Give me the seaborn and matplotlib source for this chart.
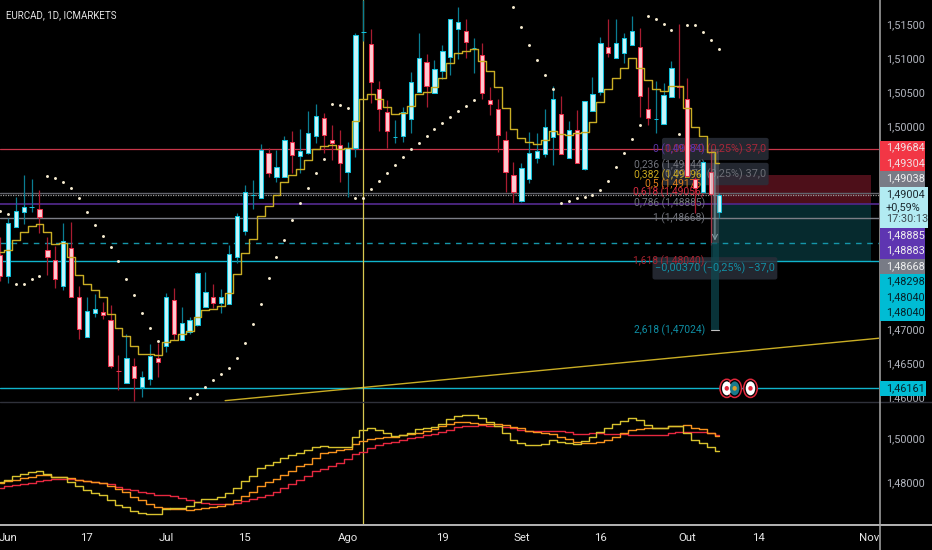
import numpy as np
import pandas as pd
import matplotlib
matplotlib.use("Agg")
import matplotlib.pyplot as plt
from matplotlib.patches import Rectangle, Ellipse, FancyBboxPatch
from matplotlib.lines import Line2D
from matplotlib.transforms import ScaledTranslation, Bbox
import seaborn as sns

# daily candles
opens = [1.4813,1.4781,1.4854,1.4876,1.4883,1.4880,1.4820,1.4805,1.4767,1.4823,
         1.4751,1.4692,1.4727,1.4729,1.4717,1.4642,1.4624,1.4649,1.4618,1.4630,
         1.4661,1.4678,1.4746,1.4687,1.4699,1.4709,1.4736,1.4751,1.4742,1.4740,
         1.4810,1.4848,1.4901,1.4896,1.4963,1.4927,1.4927,1.4979,1.4958,1.4963,
         1.4988,1.5015,1.4982,1.4975,1.4935,1.4970,1.5141,1.5124,1.5057,1.5023,
         1.4987,1.4988,1.5013,1.5053,1.5097,1.5051,1.5084,1.5104,1.5146,1.5143,
         1.5118,1.5107,1.5041,1.5028,1.4982,1.4931,1.4892,1.4925,1.4955,1.4961,
         1.4987,1.5020,1.4955,1.4997,1.4939,1.5025,1.5053,1.5119,1.5103,1.5111,
         1.5122,1.5119,1.5028,1.5013,1.5006,1.5046,1.5062,1.5042,1.4924,1.4905,
         1.4935,1.4876]
highs = [1.4839,1.4867,1.4898,1.4931,1.4925,1.4908,1.4839,1.4826,1.4860,1.4861,
         1.4767,1.4751,1.4755,1.4743,1.4739,1.4665,1.4696,1.4661,1.4641,1.4681,
         1.4683,1.4757,1.4764,1.4736,1.4721,1.4787,1.4787,1.4770,1.4763,1.4827,
         1.4875,1.4916,1.4923,1.4976,1.4970,1.4967,1.4988,1.4995,1.4998,1.5025,
         1.5035,1.5022,1.5004,1.4997,1.4979,1.5140,1.5188,1.5146,1.5069,1.5041,
         1.5012,1.5031,1.5082,1.5140,1.5109,1.5100,1.5122,1.5160,1.5178,1.5160,
         1.5132,1.5125,1.5060,1.5042,1.4995,1.4950,1.4948,1.4994,1.4993,1.5028,
         1.5062,1.5047,1.5010,1.5026,1.5040,1.5075,1.5134,1.5160,1.5160,1.5140,
         1.5165,1.5147,1.5060,1.5069,1.5066,1.5098,1.5153,1.5073,1.4927,1.4953,
         1.4967,1.4904]
lows = [1.4774,1.4771,1.4854,1.4858,1.4876,1.4845,1.4783,1.4764,1.4761,1.4751,
        1.4689,1.4692,1.4721,1.4718,1.4646,1.4614,1.4624,1.4597,1.4603,1.4621,
        1.4633,1.4670,1.4687,1.4687,1.4696,1.4708,1.4736,1.4734,1.4727,1.4740,
        1.4801,1.4842,1.4880,1.4896,1.4927,1.4920,1.4927,1.4933,1.4933,1.4961,
        1.4977,1.4963,1.4953,1.4920,1.4898,1.4957,1.5128,1.5037,1.4995,1.4970,
        1.4977,1.4979,1.4992,1.5053,1.5031,1.5051,1.5072,1.5078,1.5101,1.5103,
        1.5081,1.5042,1.5019,1.4964,1.4905,1.4889,1.4891,1.4919,1.4948,1.4957,
        1.4945,1.4961,1.4955,1.4948,1.4938,1.5025,1.5049,1.5104,1.5103,1.5095,
        1.5122,1.5016,1.5004,1.4992,1.5006,1.5046,1.5044,1.4929,1.4874,1.4905,
        1.4827,1.4867]
closes = [1.4781,1.4860,1.4878,1.4883,1.4883,1.4869,1.4810,1.4777,1.4833,1.4751,
          1.4703,1.4730,1.4733,1.4724,1.4649,1.4641,1.4661,1.4631,1.4633,1.4664,
          1.4655,1.4751,1.4696,1.4712,1.4717,1.4786,1.4758,1.4742,1.4751,1.4814,
          1.4870,1.4905,1.4901,1.4967,1.4933,1.4942,1.4982,1.4960,1.4966,1.4993,
          1.5017,1.4990,1.4977,1.4948,1.4970,1.5137,1.5141,1.5068,1.5028,1.4995,
          1.4987,1.5023,1.5068,1.5103,1.5062,1.5087,1.5113,1.5160,1.5156,1.5126,
          1.5118,1.5051,1.5035,1.4990,1.4935,1.4905,1.4941,1.4963,1.4966,1.5001,
          1.5042,1.4961,1.4997,1.4948,1.5040,1.5050,1.5125,1.5111,1.5125,1.5132,
          1.5143,1.5047,1.5015,1.5013,1.5049,1.5088,1.5060,1.4929,1.4912,1.4950,
          1.4903,1.4901]

# stepped moving average on the price pane
step_ma = [1.4817,1.4820,1.4835,1.4846,1.4855,1.4858,1.4846,1.4829,1.4830,1.4810,
           1.4783,1.4770,1.4761,1.4751,1.4726,1.4705,1.4693,1.4678,1.4667,1.4667,
           1.4665,1.4684,1.4687,1.4696,1.4701,1.4721,1.4732,1.4733,1.4737,1.4757,
           1.4785,1.4816,1.4836,1.4870,1.4885,1.4901,1.4920,1.4931,1.4940,1.4952,
           1.4969,1.4973,1.4975,1.4969,1.4970,1.5010,1.5043,1.5050,1.5043,1.5031,
           1.5021,1.5022,1.5032,1.5050,1.5053,1.5060,1.5073,1.5095,1.5110,1.5113,
           1.5116,1.5099,1.5084,1.5060,1.5029,1.4999,1.4985,1.4979,1.4976,1.4982,
           1.4995,1.4991,1.4990,1.4992,1.4994,1.5008,1.5038,1.5057,1.5073,1.5088,
           1.5103,1.5088,1.5071,1.5057,1.5054,1.5062,1.5062,1.5029,1.5001,1.4988,
           1.4964,1.4948]

# parabolic SAR dots
sar = [1.4877,1.4873,1.4770,1.4770,1.4777,1.4781,1.4929,1.4926,1.4920,1.4911,
       1.4897,1.4876,1.4857,1.4841,1.4824,1.4804,1.4777,1.4754,1.4727,1.4705,
       1.4686,np.nan,np.nan,np.nan,1.4602,1.4608,1.4618,1.4628,1.4638,1.4646,
       1.4661,1.4683,1.4711,1.4740,1.4779,1.4810,1.4835,1.4864,1.4889,1.4911,
       1.4933,1.4954,1.5035,1.5034,1.5029,1.4897,1.4897,1.4910,1.4922,1.4933,
       1.4945,1.4957,1.4969,1.4977,1.4988,1.4998,1.5007,1.5016,1.5025,1.5032,
       1.5041,np.nan,np.nan,np.nan,np.nan,1.5178,1.5148,1.5122,1.5100,1.5078,
       1.5058,1.4889,1.4892,1.4897,1.4898,1.4901,1.4908,1.4922,1.4942,1.4963,
       1.4983,1.5004,1.5165,1.5160,1.5153,1.5144,1.4991,1.5152,1.5152,1.5141,
       1.5130,1.5116]

# lower pane averages
ma_fast = [1.4809,1.4818,1.4836,1.4845,1.4855,1.4859,1.4845,1.4832,1.4832,1.4809,
           1.4791,1.4773,1.4759,1.4750,1.4727,1.4705,1.4695,1.4677,1.4668,1.4664,
           1.4664,1.4686,1.4691,1.4691,1.4700,1.4718,1.4732,1.4732,1.4741,1.4759,
           1.4782,1.4814,1.4836,1.4873,1.4886,1.4900,1.4918,1.4932,1.4941,1.4955,
           1.4968,1.4973,1.4968,1.4968,1.4968,1.5014,1.5045,1.5055,1.5045,1.5032,
           1.5018,1.5023,1.5032,1.5050,1.5055,1.5059,1.5073,1.5095,1.5109,1.5114,
           1.5114,1.5100,1.5082,1.5064,1.5032,1.5000,1.4986,1.4977,1.4977,1.4982,
           1.5000,1.4991,1.4986,1.4982,1.4995,1.5014,1.5036,1.5055,1.5073,1.5086,
           1.5100,1.5091,1.5068,1.5055,1.5055,1.5064,1.5064,1.5032,1.5000,1.4986,
           1.4968,1.4950]
ma_mid = [1.4805,1.4814,1.4818,1.4827,1.4832,1.4841,1.4841,1.4832,1.4832,1.4827,
          1.4818,1.4814,1.4809,1.4805,1.4791,1.4777,1.4764,1.4741,1.4727,1.4709,
          1.4695,1.4691,1.4686,1.4686,1.4682,1.4686,1.4691,1.4695,1.4700,1.4709,
          1.4727,1.4745,1.4764,1.4791,1.4809,1.4823,1.4841,1.4859,1.4882,1.4891,
          1.4918,1.4941,1.4945,1.4955,1.4959,1.4982,1.4995,1.5005,1.5009,1.5014,
          1.5014,1.5023,1.5027,1.5032,1.5041,1.5050,1.5064,1.5073,1.5082,1.5082,
          1.5077,1.5073,1.5073,1.5073,1.5068,1.5059,1.5055,1.5041,1.5036,1.5032,
          1.5027,1.5014,1.5005,1.4991,1.4986,1.4986,1.4991,1.5000,1.5014,1.5032,
          1.5045,1.5050,1.5055,1.5055,1.5055,1.5064,1.5064,1.5068,1.5055,1.5050,
          1.5032,1.5018]
ma_slow = [1.4782,1.4791,1.4795,1.4800,1.4805,1.4814,1.4818,1.4823,1.4823,1.4823,
           1.4818,1.4814,1.4809,1.4805,1.4800,1.4786,1.4777,1.4773,1.4764,1.4759,
           1.4750,1.4750,1.4745,1.4736,1.4727,1.4718,1.4714,1.4709,1.4709,1.4709,
           1.4714,1.4723,1.4732,1.4741,1.4750,1.4764,1.4782,1.4800,1.4818,1.4836,
           1.4859,1.4868,1.4882,1.4895,1.4914,1.4936,1.4945,1.4964,1.4977,1.4986,
           1.4991,1.5000,1.5009,1.5014,1.5023,1.5027,1.5036,1.5045,1.5059,1.5064,
           1.5064,1.5068,1.5064,1.5064,1.5059,1.5055,1.5045,1.5041,1.5041,1.5041,
           1.5041,1.5041,1.5036,1.5027,1.5027,1.5032,1.5032,1.5027,1.5027,1.5027,
           1.5023,1.5023,1.5023,1.5023,1.5023,1.5032,1.5036,1.5036,1.5036,1.5036,
           1.5032,1.5023]

# axis labels
date_ticks = [1, 11, 21, 31, 44, 56, 66, 76, 87, 96, 110]
date_labels = ["Jun", "17", "Jul", "15", "Ago", "19", "Set", "16", "Out", "14", "Nov"]
price_ticks = [1.515, 1.51, 1.505, 1.50, 1.47, 1.465, 1.46]
price_labels = ["1,51500", "1,51000", "1,50500", "1,50000", "1,47000", "1,46500", "1,46000"]
lower_ticks = [1.50, 1.48]
lower_labels = ["1,50000", "1,48000"]

# fibonacci levels
fib_levels = [1.49684, 1.49444, 1.49296, 1.49176, 1.49056, 1.48885, 1.48668, 1.48040, 1.47024]
fib_labels = ["0 (1,49684)", "0,236 (1,49444)", "0,382 (1,49296)", "0,5 (1,49176)",
              "0,618 (1,49056)", "0,786 (1,48885)", "1 (1,48668)", "1,618 (1,48040)",
              "2,618 (1,47024)"]
fib_colors = ["#5b35a8", "#72747c", "#c9a81e", "#e07f1a", "#d62c40", "#72747c", "#72747c",
              "#a8222f", "#0f8fa5"]

event_bars = [92, 93, 95]
event_level = 1.46161
crosshair_bar = 46
trend_x = [28.5, 111.27]
trend_y = [1.4598, 1.4690]

BG = "#000000"
sns.set_theme(style="dark", rc={"axes.facecolor": BG, "figure.facecolor": BG})
plt.rcParams["font.family"] = ["Roboto", "DejaVu Sans"]

W, H = 932, 550
TAG = 7.8
fig = plt.figure(figsize=(W / 100, H / 100), dpi=100)
ax = fig.add_axes([0, (H - 402) / H, 879 / W, 402 / H])
low = fig.add_axes([0, (H - 525) / H, 879 / W, 123 / H])


def fbox(x0, y0, x1, y1, color):
    # figure level box, given in pixels from the top left
    fig.add_artist(Rectangle((x0 / W, 1 - y1 / H), (x1 - x0) / W, (y1 - y0) / H,
                             transform=fig.transFigure, color=color, lw=0, zorder=5))


def ftext(x, y, s, color, size=TAG):
    fig.text(x / W, 1 - y / H, s, color=color, fontsize=size, va="center", ha="left", zorder=6)


bars = np.arange(len(opens))
o, h, l, c = map(np.array, (opens, highs, lows, closes))
up = c >= o

# position tool
ax.add_patch(Rectangle((90.3, 1.48883), 19.9, 1.49304 - 1.48883, color="#4d0f19", lw=0, zorder=1))
ax.add_patch(Rectangle((90.3, 1.4804), 19.9, 1.48883 - 1.4804, color="#062a2e", lw=0, zorder=1))

# horizontal levels
ax.axhline(1.49684, color="#c9374a", lw=0.9, zorder=2)
ax.axhline(1.49038, color="#62646c", lw=1.0, zorder=2)
ax.axhline(1.49004, color="#9a9a9a", lw=0.9, ls=(0, (1, 1)), zorder=2)
ax.axhline(1.48885, color="#4e2785", lw=1.3, zorder=2)
ax.axhline(1.48668, color="#7c7e86", lw=1.0, zorder=2)
ax.axhline(1.48298, color="#1596aa", lw=1.0, ls=(0, (4, 4)), zorder=2)
ax.axhline(1.4804, color="#10b4cc", lw=1.0, zorder=2)
ax.axhline(event_level, color="#10b4cc", lw=1.0, zorder=2)
sns.lineplot(x=trend_x, y=trend_y, color="#c9ad24", lw=1.0, ax=ax, zorder=2)
for a in (ax, low):
    a.axvline(crosshair_bar, color="#d8c850", lw=0.9, zorder=2)

# measure tool boxes
for x0, x1, y0, y1, txt, col, zt in [
    (83.8, 97.3, 1.49525, 1.49853, "0,00370 (0,25%) 37,0", "#a8283a", 2.5),
    (83.8, 97.3, 1.49155, 1.49485, "0,00370 (0,25%) 37,0", "#6c6e76", 2.5),
    (82.6, 98.4, 1.47765, 1.48095, "\u22120,00370 (\u22120,25%) \u221237,0", "#128ea3", 3.6),
]:
    ax.add_patch(FancyBboxPatch((x0 + 0.2, y0 + 0.0002), x1 - x0 - 0.4, y1 - y0 - 0.0004,
                                boxstyle="round,pad=0.2,rounding_size=0.3", mutation_aspect=0.001,
                                fc="#2a2e39", ec="none", alpha=0.85, zorder=2.4))
    ax.text((x0 + x1) / 2, (y0 + y1) / 2, txt, color=col, fontsize=7.8, ha="center", va="center",
            zorder=zt)

for lv, lab, col in zip(fib_levels, fib_labels, fib_colors):
    ax.text(89.2, lv, lab, color=col, fontsize=7.4, ha="right", va="center", zorder=2.6)

# candles
wick_col = np.where(up, "#0a7d92", "#a81c30")
ax.vlines(bars, l, h, colors=list(wick_col), lw=0.9, zorder=3)
ax.bar(bars[up], (c - o)[up], bottom=o[up], width=0.55, color="#c6f6fb", edgecolor="#12c2dc",
       linewidth=0.75, zorder=3.2)
ax.bar(bars[~up], (o - c)[~up], bottom=c[~up], width=0.55, color="#ffc9d0", edgecolor="#e8304a",
       linewidth=0.75, zorder=3.2)

# range column over the last bars
ax.add_patch(Rectangle((90.0, 1.48298), 1.0, 1.49684 - 1.48298, color="#8a8a90", alpha=0.28, lw=0, zorder=3.5))
ax.add_patch(Rectangle((90.0, 1.47024), 1.0, 1.48298 - 1.47024, color="#0e4a52", alpha=0.7, lw=0, zorder=3.5))
ax.annotate("", xy=(90.5, 1.48298), xytext=(90.5, 1.4966), zorder=3.6,
            arrowprops=dict(arrowstyle="->", color="#7f9aa0", lw=0.8, mutation_scale=9))
ax.plot([90.0, 91.0], [1.47024, 1.47024], color="#c0c0c0", lw=0.8, zorder=3.6)

sns.lineplot(x=bars, y=step_ma, color="#c9ad24", lw=1.0, drawstyle="steps-mid", ax=ax,
             estimator=None, zorder=4)
sns.scatterplot(x=bars, y=sar, color="#f7ecd0", s=4.5, linewidth=0, ax=ax, zorder=5)

# calendar events
for b, fc in zip(event_bars, ["#ffffff", "#1a7a8c", "#ffffff"]):
    ax.add_patch(Ellipse((b, event_level), 1.72, 0.00268, fc="#000000", ec="#e0283c", lw=1.1,
                         zorder=8, clip_on=False))
    ax.add_patch(Ellipse((b, event_level), 1.2, 0.00205, fc=fc, ec="none", zorder=8.1))
    ax.add_patch(Ellipse((b, event_level), 0.55, 0.0007, fc="#e0283c" if fc == "#ffffff" else "#d9a02a",
                         ec="none", zorder=8.2))

# lower pane
ma_long = pd.DataFrame({
    "bar": np.tile(bars, 3),
    "price": ma_slow + ma_mid + ma_fast,
    "ma": ["slow"] * len(bars) + ["mid"] * len(bars) + ["fast"] * len(bars),
})
sns.lineplot(data=ma_long, x="bar", y="price", hue="ma", estimator=None, legend=False,
             palette={"slow": "#e5283f", "mid": "#f7931e", "fast": "#d8c22e"},
             drawstyle="steps-mid", lw=1.0, ax=low, zorder=3)

# scales
ax.set_xlim(0, 111.27)
ax.set_ylim(1.45960, 1.51885)
low.set_xlim(0, 111.27)
low.set_ylim(1.46136, 1.51727)
ax.set_xticks([])
ax.set_xlabel("")
ax.set_ylabel("")
low.set_xlabel("")
low.set_ylabel("")
ax.set_yticks(price_ticks, price_labels)
low.set_yticks(lower_ticks, lower_labels)
low.set_xticks(date_ticks, date_labels)
for a in (ax, low):
    a.yaxis.tick_right()
    a.tick_params(axis="y", length=0, pad=5.2, labelsize=TAG, labelcolor="#b2b5be")
    a.grid(False)
    for s in a.spines.values():
        s.set_visible(False)
low.tick_params(axis="x", length=0, pad=5.5, labelsize=8.2, labelcolor="#e8e8e8")

# tick text sits 2 px over the level
shift = ScaledTranslation(0, 2 / 72 * 0.72, fig.dpi_scale_trans)
for a in (ax, low):
    for t in a.get_yticklabels():
        t.set_transform(t.get_transform() + shift)
# 1,46000 is cut by the pane border
ax.get_yticklabels()[-1].set_clip_box(Bbox([[880, H - 401.5], [932, H - 390]]))
ax.get_yticklabels()[-1].set_clip_on(True)

# pane borders
fig.add_artist(Line2D([0, 1], [1 - 401.7 / H] * 2, color="#2f313a", lw=1.0, zorder=4))
fig.add_artist(Line2D([0, 1], [1 - 525 / H] * 2, color="#b4b4b4", lw=1.4, zorder=4))
fig.add_artist(Line2D([879.5 / W] * 2, [0, 1], color="#a8a8a8", lw=1.1, zorder=4))

# price tags on the scale
fbox(880, 141, 925, 171, "#f23645")
ftext(886, 147.3, "1,49684", "#f0e0e2")
ftext(886, 163.3, "1,49304", "#f0e0e2")
fbox(880, 171, 925, 187, "#787b86")
ftext(886, 178, "1,49038", "#eeeeee")
fbox(880, 187, 928, 228, "#b2ebf2")
ftext(886, 194, "1,49004", "#1c2a30")
ftext(886, 207, "+0,59%", "#1c2a30")
ftext(886, 219, "17:30:13", "#3b4a50")
fbox(880, 228, 925, 259, "#5e35b1")
ftext(886, 235, "1,48885", "#eeeeee")
ftext(886, 250, "1,48883", "#eeeeee")
fbox(880, 259, 925, 274, "#787b86")
ftext(886, 266, "1,48668", "#eeeeee")
fbox(880, 274, 925, 321, "#00bcd4")
ftext(886, 281.7, "1,48298", "#06222a")
ftext(886, 297, "1,48040", "#06222a")
ftext(886, 312, "1,48040", "#06222a")
fbox(880, 381, 926, 395.7, "#00bcd4")
ftext(886, 388, "1,46161", "#06222a")

fig.text(6 / W, 1 - 15 / H, "EURCAD, 1D, ICMARKETS", color="#e4e4e4", fontsize=7.0, va="center", zorder=6)

fig.savefig("out.png", dpi=100, facecolor=BG)
